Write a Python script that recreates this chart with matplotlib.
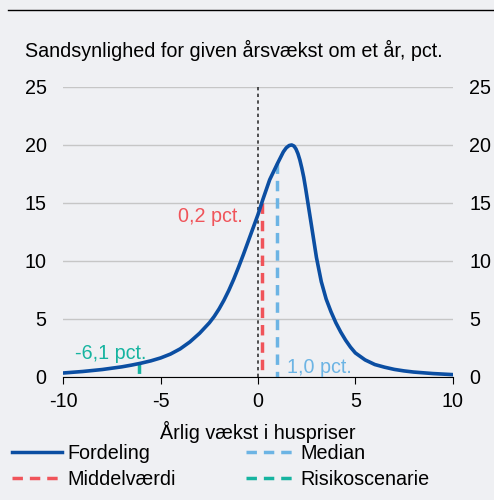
import matplotlib.pyplot as plt
from matplotlib.lines import Line2D

plt.rcParams['font.family'] = ['Liberation Sans', 'DejaVu Sans']
plt.rcParams['axes.unicode_minus'] = False

# data
vaekst = [-10, -9, -8, -7, -6.5, -6, -5.5, -5, -4.5, -4, -3.5, -3, -2.5, -2.25,
          -2, -1.75, -1.5, -1.25, -1, -0.75, -0.5, -0.25, 0, 0.25, 0.6, 1.0,
          1.3, 1.45, 1.6, 1.73, 1.85, 1.95, 2.05, 2.15, 2.25, 2.35, 2.45, 2.6,
          2.75, 3.0, 3.25, 3.5, 3.75, 4.0, 4.25, 4.5, 4.75, 5.0, 5.5, 6.0, 6.5,
          7, 7.5, 8, 9, 10]
sandsynlighed = [0.32, 0.45, 0.62, 0.85, 1.0, 1.17, 1.37, 1.62, 1.95, 2.4, 3.0,
                 3.75, 4.65, 5.2, 5.85, 6.6, 7.45, 8.4, 9.45, 10.55, 11.7,
                 12.85, 14.0, 15.3, 17.0, 18.4, 19.4, 19.75, 19.95, 20.0, 19.9,
                 19.65, 19.25, 18.7, 18.0, 17.2, 16.2, 14.6, 13.0, 10.3, 8.2,
                 6.7, 5.6, 4.65, 3.85, 3.15, 2.55, 2.05, 1.45, 1.05, 0.82, 0.63,
                 0.5, 0.4, 0.27, 0.18]

middel_x, middel_y = 0.2, 15.0
median_x, median_y = 1.0, 18.4
risiko_x, risiko_y = -6.1, 1.16

bg = '#eff0f3'
c_ford = '#0b4ea2'
c_mid = '#f0545a'
c_med = '#6cb4e4'
c_ris = '#16b4a0'
fs = 14.2

fig = plt.figure(figsize=(4.94, 5.0), dpi=100, facecolor=bg)
ax = fig.add_axes([0.1282, 0.2466, 0.7882, 0.5794], facecolor=bg)

ax.set_xlim(-10, 10)
ax.set_ylim(0, 25)
ax.set_yticks([0, 5, 10, 15, 20, 25])
ax.set_xticks([-10, -5, 0, 5, 10])
ax.grid(axis='y', color='#c6c6c6', linewidth=1)
ax.set_axisbelow(True)
for s in ['top', 'left', 'right']:
    ax.spines[s].set_visible(False)
ax.spines['bottom'].set_color('black')
ax.tick_params(axis='y', length=0, labelsize=fs, labelright=True, pad=12)
ax.tick_params(axis='x', length=5, labelsize=fs, pad=6)

# dashed markers drawn from the curve down so the dash starts at the top
ax.plot([0, 0], [25, 0], color='#333333', linestyle=(0, (2, 2)), linewidth=1.2)
ax.plot([middel_x, middel_x], [middel_y, 0], color=c_mid, linestyle=(0, (3, 2)), linewidth=2.5)
ax.plot([median_x, median_x], [median_y, 0], color=c_med, linestyle=(0, (3, 2)), linewidth=2.5)
ax.plot([risiko_x, risiko_x], [risiko_y, 0], color=c_ris, linestyle=(0, (3, 2)), linewidth=2.5)
ax.plot(vaekst, sandsynlighed, color=c_ford, linewidth=2.6, solid_joinstyle='round')

ax.text(-0.78, 13.8, '0,2 pct.', color=c_mid, fontsize=fs, ha='right', va='center')
ax.text(1.47, 0.8, '1,0 pct.', color=c_med, fontsize=fs, ha='left', va='center')
ax.text(-9.38, 2.0, '-6,1 pct.', color=c_ris, fontsize=fs, ha='left', va='center')

ax.set_xlabel('Årlig vækst i huspriser', fontsize=fs, labelpad=7)

fig.text(0.05, 0.9, 'Sandsynlighed for given årsvækst om et år, pct.', fontsize=fs,
         ha='left', va='center')
fig.add_artist(Line2D([0.016, 1.0], [0.98, 0.98], color='black', linewidth=1))

handles = [
    Line2D([], [], color=c_ford, linewidth=2.5),
    Line2D([], [], color=c_mid, linewidth=2.5, linestyle=(0, (3, 2))),
    Line2D([], [], color=c_med, linewidth=2.5, linestyle=(0, (3, 2))),
    Line2D([], [], color=c_ris, linewidth=2.5, linestyle=(0, (3, 2))),
]
labels = ['Fordeling', 'Middelværdi', 'Median', 'Risikoscenarie']
fig.legend(handles, labels, ncol=2, loc='upper left', bbox_to_anchor=(0.024, 0.112),
           frameon=False, fontsize=fs, handlelength=2.55, handletextpad=0.25,
           columnspacing=3.55, labelspacing=0.35, borderaxespad=0, borderpad=0)

fig.savefig('out.png', dpi=100, facecolor=bg)
